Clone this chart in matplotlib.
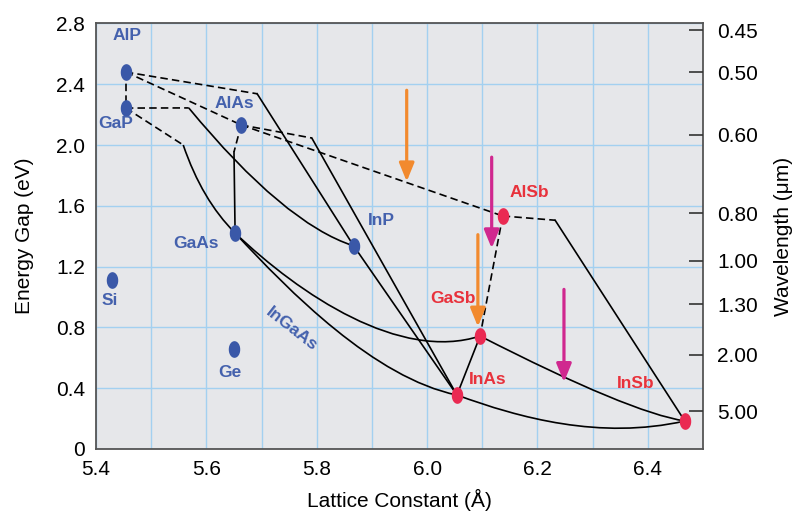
import numpy as np
import matplotlib
matplotlib.use('Agg')
import matplotlib.pyplot as plt
from matplotlib.path import Path
from matplotlib.patches import PathPatch

plt.rcParams['font.family'] = ['Liberation Sans', 'DejaVu Sans']

# compounds: lattice constant (A) and energy gap (eV)
names = ['AlP', 'GaP', 'AlAs', 'GaAs', 'InP', 'Si', 'Ge', 'AlSb', 'GaSb', 'InAs', 'InSb']
lattice = [5.454, 5.454, 5.663, 5.652, 5.867, 5.429, 5.650, 6.137, 6.096, 6.054, 6.467]
gap = [2.48, 2.243, 2.132, 1.421, 1.336, 1.112, 0.658, 1.533, 0.743, 0.355, 0.184]
group = ['b', 'b', 'b', 'b', 'b', 'b', 'b', 'r', 'r', 'r', 'r']

# label positions for each compound
label_x = [5.456, 5.436, 5.650, 5.581, 5.918, 5.424, 5.643, 6.186, 6.047, 6.110, 6.378]
label_y = [2.72, 2.14, 2.27, 1.35, 1.50, 0.975, 0.50, 1.69, 0.99, 0.46, 0.43]

# kink points where the alloy lines change from indirect to direct
kinks = {'K1': (5.692, 2.337), 'K2': (5.568, 2.244), 'K3': (5.558, 2.00),
         'K4': (5.650, 1.954), 'K5': (5.791, 2.046), 'K6': (6.232, 1.505)}

dashed = [('AlP', 'GaP'), ('AlP', 'AlAs'), ('AlP', 'K1'), ('GaP', 'K2'), ('GaP', 'K3'),
          ('AlAs', 'K4'), ('AlAs', 'K5'), ('AlAs', 'AlSb'), ('AlSb', 'K6'), ('AlSb', 'GaSb')]
solid = [('K1', 'InP'), ('InP', 'InAs'), ('K5', 'InAs'), ('K4', 'GaAs'),
         ('GaSb', 'InAs'), ('K6', 'InSb')]
# bowed alloys: start, control point(s), end
curves = [('K2', [(5.741, 1.483)], 'InP'),
          ('K3', [(5.592, 1.638)], 'GaAs'),
          ('GaAs', [(5.751, 1.033), (5.905, 0.467)], 'InAs'),
          ('GaAs', [(5.770, 1.013), (5.951, 0.573)], 'GaSb'),
          ('GaSb', [(6.367, 0.240)], 'InSb'),
          ('InAs', [(6.168, 0.204), (6.313, 0.059)], 'InSb')]

# arrows: x, start energy, end energy, colour
arrow_x = [5.963, 6.117, 6.092, 6.248]
arrow_from = [2.36, 1.92, 1.41, 1.05]
arrow_to = [1.76, 1.32, 0.805, 0.44]
arrow_col = ['#f28a2e', '#d0288f', '#f28a2e', '#d0288f']

wavelengths = [0.45, 0.50, 0.60, 0.80, 1.00, 1.30, 2.00, 5.00]

blue = '#3a58a8'
red = '#ea2a52'
blue_txt = '#4461ad'
red_txt = '#e8323c'

pts = dict(zip(names, zip(lattice, gap)))
pts.update(kinks)

fig = plt.figure(figsize=(7.95, 5.19), dpi=100)
ax = fig.add_axes([0.1208, 0.1349, 0.7635, 0.8200])
ax.set_facecolor('#e6e7ea')
ax.set_xlim(5.4, 6.5)
ax.set_ylim(0, 2.8)

ax.set_xticks(np.arange(5.4, 6.45, 0.2))
ax.set_xticks(np.arange(5.5, 6.5, 0.2), minor=True)
ax.set_xticklabels(['5.4', '5.6', '5.8', '6.0', '6.2', '6.4'])
ax.set_yticks(np.arange(0, 2.85, 0.4))
ax.set_yticklabels(['0', '0.4', '0.8', '1.2', '1.6', '2.0', '2.4', '2.8'])
ax.grid(True, which='both', color='#a3d0f0', lw=1.0)
ax.set_axisbelow(True)
ax.tick_params(which='both', length=0, labelsize=15, pad=8)
for s in ax.spines.values():
    s.set_color('#555555')
    s.set_linewidth(1.3)

for a, b in dashed:
    ax.plot([pts[a][0], pts[b][0]], [pts[a][1], pts[b][1]], color='k', lw=1.2,
            ls=(0, (4.5, 2.5)), zorder=2)
for a, b in solid:
    ax.plot([pts[a][0], pts[b][0]], [pts[a][1], pts[b][1]], color='k', lw=1.2, zorder=2)
for a, ctrl, b in curves:
    verts = [pts[a]] + ctrl + [pts[b]]
    code = Path.CURVE3 if len(ctrl) == 1 else Path.CURVE4
    codes = [Path.MOVETO] + [code] * (len(verts) - 1)
    ax.add_patch(PathPatch(Path(verts, codes), fill=False, ec='k', lw=1.2, zorder=2))

# elliptical markers
t = np.linspace(0, 2 * np.pi, 41)
ell = np.column_stack([0.66 * np.cos(t), np.sin(t)])
for n, x, y, g in zip(names, lattice, gap, group):
    ax.plot(x, y, marker=ell, ms=11, color=blue if g == 'b' else red, ls='none', zorder=4)

for n, x, y, g in zip(names, label_x, label_y, group):
    ax.text(x, y, n, color=blue_txt if g == 'b' else red_txt, fontsize=12.5,
            fontweight='bold', ha='center', va='center', zorder=5)
ax.text(5.755, 0.785, 'InGaAs', color=blue_txt, fontsize=12.5, fontweight='bold',
        ha='center', va='center', rotation=-38, zorder=5)

for x, y0, y1, c in zip(arrow_x, arrow_from, arrow_to, arrow_col):
    ax.annotate('', xy=(x, y1), xytext=(x, y0),
                arrowprops=dict(arrowstyle='-|>,head_length=1.1,head_width=0.45',
                                color=c, lw=2.3, shrinkA=0, shrinkB=0,
                                mutation_scale=10), zorder=3)

ax.set_xlabel('Lattice Constant (Å)', fontsize=15, labelpad=7)
ax.set_ylabel('Energy Gap (eV)', fontsize=15, labelpad=16)

ax2 = ax.twinx()
ax2.set_ylim(0, 2.8)
ax2.set_yticks([1.24 / w for w in wavelengths])
ax2.set_yticklabels(['%.2f' % w for w in wavelengths])
ax2.tick_params(direction='in', length=10, width=1.2, color='#333333', labelsize=15, pad=10)
ax2.set_ylabel('Wavelength (μm)', fontsize=15, labelpad=12)
for s in ax2.spines.values():
    s.set_visible(False)

fig.savefig('out.png', dpi=100)
